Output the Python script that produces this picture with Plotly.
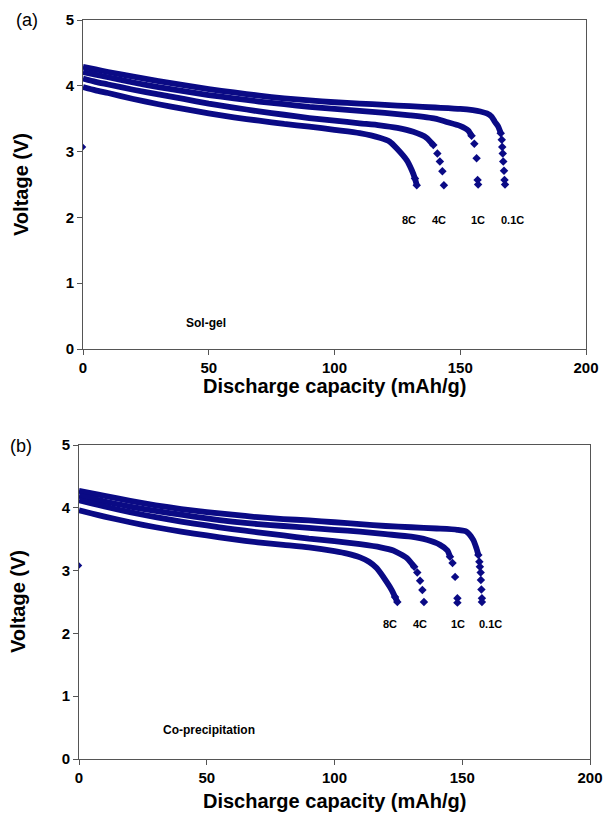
import plotly.graph_objects as go

# ---------------- data: (a) Sol-gel ----------------
sg_01C_x = [0, 5, 10, 20, 30, 40, 50, 60, 70, 80, 90, 100, 110, 120, 130, 140, 150, 155, 158, 160.6, 162.5, 163.8, 165.1, 166.1]
sg_01C_y = [4.29, 4.25, 4.21, 4.14, 4.07, 4.01, 3.95, 3.90, 3.85, 3.81, 3.78, 3.75, 3.73, 3.71, 3.69, 3.67, 3.65, 3.63, 3.61, 3.58, 3.53, 3.45, 3.38, 3.28]
sg_01C_tail_x = [166.1, 166.5, 166.7, 166.9, 167.1, 167.4, 167.6, 167.8]
sg_01C_tail_y = [3.28, 3.18, 3.07, 2.97, 2.85, 2.71, 2.57, 2.50]

sg_1C_x = [0, 5, 10, 20, 30, 40, 50, 60, 70, 80, 90, 100, 110, 120, 130, 140, 144.6, 149.9, 153.2, 154.5]
sg_1C_y = [4.21, 4.17, 4.13, 4.05, 3.98, 3.92, 3.86, 3.81, 3.76, 3.72, 3.68, 3.65, 3.62, 3.59, 3.55, 3.50, 3.45, 3.39, 3.32, 3.24]
sg_1C_tail_x = [154.5, 155.6, 156.5, 156.9, 157.1]
sg_1C_tail_y = [3.24, 3.12, 2.90, 2.57, 2.50]

sg_4C_x = [0, 5, 10, 20, 30, 40, 50, 60, 70, 80, 90, 100, 110, 118, 125, 131.3, 136.6, 139.3]
sg_4C_y = [4.11, 4.06, 4.02, 3.94, 3.87, 3.80, 3.73, 3.67, 3.61, 3.56, 3.51, 3.47, 3.43, 3.40, 3.36, 3.30, 3.21, 3.10]
sg_4C_tail_x = [139.3, 140.9, 141.9, 142.9, 143.5]
sg_4C_tail_y = [3.10, 2.97, 2.85, 2.70, 2.49]

sg_8C_x = [0, 5, 10, 20, 30, 40, 50, 60, 70, 80, 90, 100, 110, 118, 122, 124.7, 128.7, 130.7, 132.0, 132.7]
sg_8C_y = [3.98, 3.93, 3.89, 3.80, 3.72, 3.65, 3.58, 3.52, 3.47, 3.42, 3.38, 3.33, 3.28, 3.21, 3.15, 3.05, 2.87, 2.72, 2.59, 2.49]
sg_8C_tail_x = [132.0, 132.7]
sg_8C_tail_y = [2.59, 2.49]

sg_start_x = [0]
sg_start_y = [3.07]

# ---------------- data: (b) Co-precipitation ----------------
cp_01C_x = [0, 5, 10, 20, 30, 40, 50, 60, 70, 80, 90, 100, 110, 120, 130, 140, 148, 151.7, 154.3, 155.6, 156.3]
cp_01C_y = [4.27, 4.23, 4.19, 4.11, 4.04, 3.98, 3.93, 3.89, 3.85, 3.82, 3.80, 3.77, 3.74, 3.71, 3.69, 3.67, 3.65, 3.62, 3.49, 3.35, 3.25]
cp_01C_tail_x = [156.3, 156.7, 156.9, 157.2, 157.3, 157.5, 157.7, 157.7]
cp_01C_tail_y = [3.25, 3.14, 3.06, 2.97, 2.85, 2.70, 2.56, 2.50]

cp_1C_x = [0, 5, 10, 20, 30, 40, 50, 60, 70, 80, 90, 100, 110, 120, 130, 136.1, 141.3, 144.2, 145.2]
cp_1C_y = [4.19, 4.15, 4.10, 4.02, 3.95, 3.89, 3.83, 3.78, 3.74, 3.71, 3.68, 3.65, 3.62, 3.58, 3.54, 3.49, 3.41, 3.32, 3.22]
cp_1C_tail_x = [145.2, 146.2, 147.2, 148.1, 148.1]
cp_1C_tail_y = [3.22, 3.12, 2.90, 2.56, 2.49]

cp_4C_x = [0, 5, 10, 20, 30, 40, 50, 60, 70, 80, 90, 100, 110, 118, 123, 128.3, 131.2]
cp_4C_y = [4.12, 4.07, 4.02, 3.93, 3.85, 3.78, 3.72, 3.66, 3.61, 3.56, 3.51, 3.47, 3.42, 3.37, 3.32, 3.20, 3.06]
cp_4C_tail_x = [131.2, 132.4, 133.5, 134.4, 135.0]
cp_4C_tail_y = [3.06, 2.97, 2.84, 2.69, 2.50]

cp_8C_x = [0, 5, 10, 20, 30, 40, 50, 60, 70, 80, 90, 100, 105, 110, 113.5, 116.5, 120.4, 122.4, 123.7, 124.6]
cp_8C_y = [3.96, 3.91, 3.86, 3.77, 3.69, 3.62, 3.56, 3.50, 3.45, 3.41, 3.37, 3.31, 3.27, 3.21, 3.14, 3.04, 2.82, 2.69, 2.58, 2.50]
cp_8C_tail_x = [123.7, 124.6]
cp_8C_tail_y = [2.58, 2.50]

cp_start_x = [0]
cp_start_y = [3.08]

x_ticks = [0, 50, 100, 150, 200]
y_ticks = [0, 1, 2, 3, 4, 5]
rate_labels = ["8C", "4C", "1C", "0.1C"]

COLOR = "#0a0a85"
fig = go.Figure()

def add_curve(xs, ys, txs, tys, ax):
    fig.add_trace(go.Scatter(x=xs, y=ys, mode="lines", line=dict(color=COLOR, width=5.8, shape="spline", smoothing=0.6),
                             xaxis=ax[0], yaxis=ax[1], showlegend=False, hoverinfo="skip"))
    fig.add_trace(go.Scatter(x=txs, y=tys, mode="markers", marker=dict(color=COLOR, size=6.5, symbol="diamond"),
                             xaxis=ax[0], yaxis=ax[1], showlegend=False, hoverinfo="skip"))

top = ("x", "y")
bot = ("x2", "y2")
for xs, ys, txs, tys in [(sg_01C_x, sg_01C_y, sg_01C_tail_x, sg_01C_tail_y),
                         (sg_1C_x, sg_1C_y, sg_1C_tail_x, sg_1C_tail_y),
                         (sg_4C_x, sg_4C_y, sg_4C_tail_x, sg_4C_tail_y),
                         (sg_8C_x, sg_8C_y, sg_8C_tail_x, sg_8C_tail_y)]:
    add_curve(xs, ys, txs, tys, top)
fig.add_trace(go.Scatter(x=sg_start_x, y=sg_start_y, mode="markers", marker=dict(color=COLOR, size=5, symbol="diamond"),
                         showlegend=False, hoverinfo="skip"))
for xs, ys, txs, tys in [(cp_01C_x, cp_01C_y, cp_01C_tail_x, cp_01C_tail_y),
                         (cp_1C_x, cp_1C_y, cp_1C_tail_x, cp_1C_tail_y),
                         (cp_4C_x, cp_4C_y, cp_4C_tail_x, cp_4C_tail_y),
                         (cp_8C_x, cp_8C_y, cp_8C_tail_x, cp_8C_tail_y)]:
    add_curve(xs, ys, txs, tys, bot)
fig.add_trace(go.Scatter(x=cp_start_x, y=cp_start_y, mode="markers", marker=dict(color=COLOR, size=5, symbol="diamond"),
                         xaxis="x2", yaxis="y2", showlegend=False, hoverinfo="skip"))

W, H = 606, 819
def px(v): return v / W
def py(v): return 1 - v / H

FONT = "Arial, Liberation Sans, sans-serif"
tickfont = dict(family=FONT, size=15, color="black", weight="bold")
axis_common = dict(showline=True, linecolor="#555555", linewidth=1, mirror=True, ticks="outside",
                   ticklen=5, tickcolor="#555555", showgrid=False, zeroline=False, tickfont=tickfont,
                   automargin=False, fixedrange=True)

fig.update_layout(
    width=W, height=H, margin=dict(l=0, r=0, t=0, b=0, pad=0),
    paper_bgcolor="white", plot_bgcolor="white",
    xaxis=dict(domain=[px(83), px(586)], range=[0, 200], tickvals=x_ticks, anchor="y", **axis_common),
    yaxis=dict(domain=[py(349), py(20)], range=[0, 5], tickvals=y_ticks, anchor="x", **axis_common),
    xaxis2=dict(domain=[px(79), px(590)], range=[0, 200], tickvals=x_ticks, anchor="y2", **axis_common),
    yaxis2=dict(domain=[py(759), py(445)], range=[0, 5], tickvals=y_ticks, anchor="x2", **axis_common),
)

C = dict(xanchor="center", yanchor="middle", showarrow=False)
ann = []
# axis titles
for cx, cy in [(334, 386), (334, 801)]:
    ann.append(dict(text="<b>Discharge capacity (mAh/g)</b>", x=px(cx), y=py(cy), xref="paper", yref="paper",
                    font=dict(family=FONT, size=20, color="black"), **C))
for cx, cy in [(21, 185), (18, 602)]:
    ann.append(dict(text="<b>Voltage (V)</b>", x=px(cx), y=py(cy), xref="paper", yref="paper", textangle=-90,
                    font=dict(family=FONT, size=20, color="black"), **C))
# panel labels
ann.append(dict(text="(a)", x=px(27), y=py(20), xref="paper", yref="paper",
                font=dict(family=FONT, size=18, color="black"), **C))
ann.append(dict(text="(b)", x=px(21), y=py(446), xref="paper", yref="paper",
                font=dict(family=FONT, size=18, color="black"), **C))
# sample labels
ann.append(dict(text="<b>Sol-gel</b>", x=49, y=0.40, xref="x", yref="y",
                font=dict(family=FONT, size=12, color="black"), **C))
ann.append(dict(text="<b>Co-precipitation</b>", x=51, y=0.46, xref="x2", yref="y2",
                font=dict(family=FONT, size=12, color="black"), **C))
# rate labels
for lab, cx in zip(rate_labels, [129.6, 141.5, 157.0, 170.6]):
    ann.append(dict(text="<b>" + lab + "</b>", x=cx, y=1.96, xref="x", yref="y",
                    font=dict(family=FONT, size=11, color="black"), **C))
for lab, cx in zip(rate_labels, [121.7, 133.5, 148.3, 160.9]):
    ann.append(dict(text="<b>" + lab + "</b>", x=cx, y=2.15, xref="x2", yref="y2",
                    font=dict(family=FONT, size=11, color="black"), **C))
fig.update_layout(annotations=ann)

# remove the default page margin so the 606x819 figure fills the window exactly
fig.write_html("out.html", config={"displayModeBar": False},
               post_script="document.body.style.margin='0';document.body.style.overflow='hidden';")
